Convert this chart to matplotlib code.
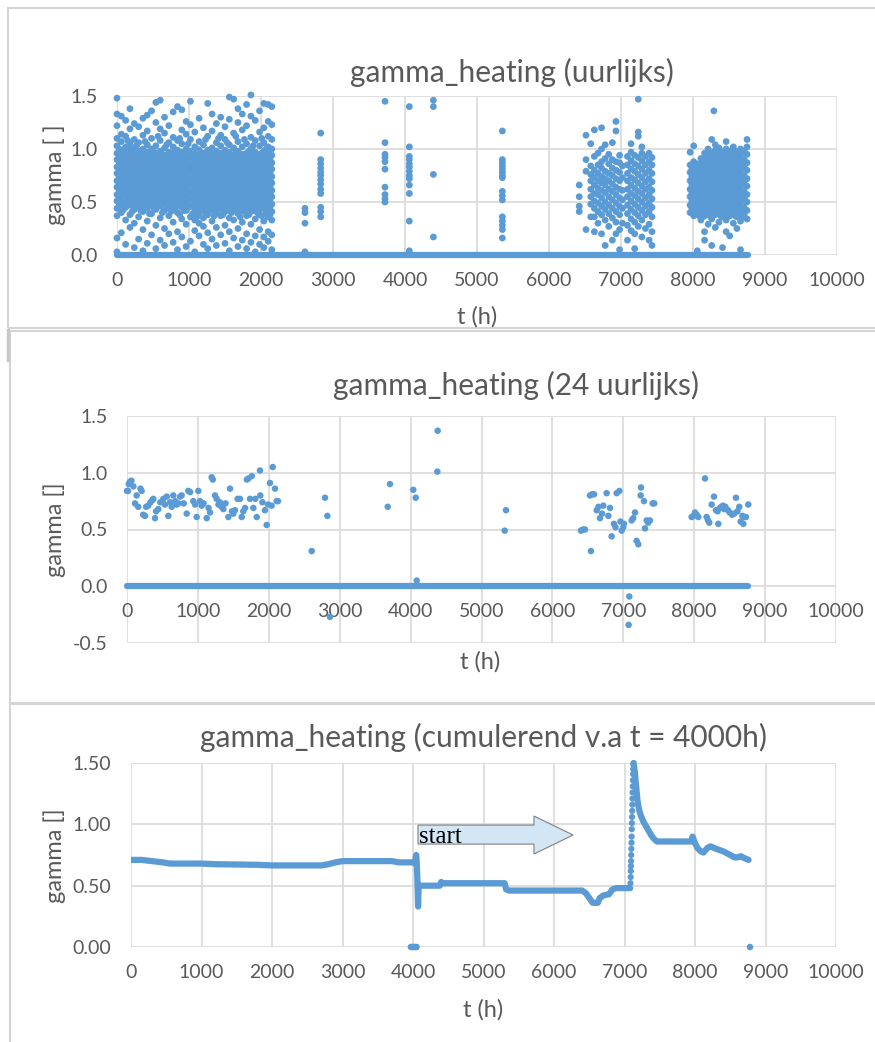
import matplotlib.pyplot as plt
from matplotlib.patches import Polygon, Rectangle
from matplotlib.lines import Line2D

plt.rcParams['font.family'] = ['Lato', 'DejaVu Sans']

BLUE = '#5B9BD5'
GRID = '#D9D9D9'
TXT = '#595959'

# ---------- hourly data (t in h, list of gamma values read per column) ----------
hourly_block1 = [
    (0,    [0.03, 0.16, 0.37, 0.44, 0.51, 0.57, 0.64, 0.70, 0.77, 0.83, 0.90, 0.96, 1.03, 1.10, 1.22, 1.33, 1.48]),
    (60,   [0.21, 0.40, 0.47, 0.54, 0.60, 0.67, 0.73, 0.80, 0.86, 0.93, 0.99, 1.07, 1.14, 1.31]),
    (120,  [0.10, 0.33, 0.45, 0.50, 0.57, 0.63, 0.70, 0.76, 0.83, 0.89, 0.96, 1.02, 1.12, 1.27]),
    (180,  [0.26, 0.38, 0.47, 0.53, 0.60, 0.66, 0.73, 0.79, 0.86, 0.92, 0.99, 1.05, 1.19, 1.38]),
    (240,  [0.07, 0.30, 0.43, 0.50, 0.56, 0.63, 0.69, 0.76, 0.82, 0.89, 0.95, 1.01, 1.09, 1.24]),
    (300,  [0.15, 0.36, 0.46, 0.53, 0.59, 0.66, 0.72, 0.79, 0.85, 0.92, 0.98, 1.06, 1.21]),
    (360,  [0.04, 0.24, 0.41, 0.49, 0.55, 0.62, 0.68, 0.75, 0.81, 0.88, 0.94, 1.00, 1.13, 1.29]),
    (420,  [0.11, 0.32, 0.44, 0.52, 0.58, 0.65, 0.71, 0.78, 0.84, 0.91, 0.97, 1.04, 1.17, 1.32]),
    (480,  [0.19, 0.39, 0.47, 0.54, 0.60, 0.67, 0.73, 0.80, 0.86, 0.93, 1.00, 1.10, 1.36]),
    (540,  [0.06, 0.28, 0.43, 0.50, 0.56, 0.63, 0.70, 0.76, 0.83, 0.89, 0.96, 1.03, 1.25, 1.44]),
    (600,  [0.14, 0.35, 0.46, 0.53, 0.59, 0.66, 0.72, 0.79, 0.85, 0.92, 0.98, 1.08, 1.19, 1.46]),
    (660,  [0.09, 0.25, 0.42, 0.49, 0.55, 0.62, 0.68, 0.75, 0.81, 0.88, 0.94, 1.01, 1.15, 1.30]),
    (720,  [0.20, 0.37, 0.45, 0.52, 0.58, 0.65, 0.71, 0.78, 0.84, 0.91, 0.97, 1.06, 1.22]),
    (780,  [0.12, 0.31, 0.44, 0.50, 0.57, 0.63, 0.70, 0.76, 0.83, 0.89, 0.96, 1.02, 1.11, 1.35]),
    (840,  [0.05, 0.22, 0.40, 0.47, 0.54, 0.60, 0.67, 0.73, 0.80, 0.86, 0.93, 0.99, 1.08, 1.40]),
    (900,  [0.17, 0.34, 0.45, 0.52, 0.58, 0.65, 0.71, 0.78, 0.84, 0.91, 0.97, 1.05, 1.18, 1.37]),
    (960,  [0.08, 0.29, 0.42, 0.49, 0.55, 0.62, 0.68, 0.75, 0.81, 0.88, 0.94, 1.00, 1.14, 1.26]),
    (1020, [0.13, 0.36, 0.46, 0.53, 0.59, 0.66, 0.72, 0.79, 0.85, 0.92, 0.98, 1.09, 1.23, 1.45]),
    (1080, [0.03, 0.23, 0.33, 0.43, 0.50, 0.56, 0.63, 0.69, 0.76, 0.82, 0.89, 0.95, 1.02, 1.16]),
    (1140, [0.18, 0.30, 0.39, 0.47, 0.53, 0.60, 0.66, 0.73, 0.79, 0.86, 0.92, 0.99, 1.07, 1.29]),
    (1200, [0.10, 0.27, 0.35, 0.44, 0.51, 0.57, 0.64, 0.70, 0.77, 0.83, 0.90, 0.96, 1.04, 1.20]),
    (1260, [0.06, 0.21, 0.38, 0.47, 0.54, 0.60, 0.67, 0.73, 0.80, 0.86, 0.93, 0.99, 1.12, 1.43]),
    (1320, [0.15, 0.32, 0.42, 0.49, 0.56, 0.62, 0.69, 0.75, 0.82, 0.88, 0.95, 1.01, 1.17, 1.33]),
    (1380, [0.09, 0.26, 0.40, 0.46, 0.52, 0.59, 0.65, 0.72, 0.78, 0.85, 0.91, 0.98, 1.06, 1.24]),
    (1440, [0.19, 0.37, 0.44, 0.50, 0.57, 0.63, 0.70, 0.76, 0.83, 0.89, 0.96, 1.03, 1.13, 1.30]),
    (1500, [0.11, 0.28, 0.41, 0.47, 0.54, 0.60, 0.67, 0.73, 0.80, 0.86, 0.93, 0.99, 1.09, 1.21]),
    (1560, [0.04, 0.22, 0.35, 0.45, 0.51, 0.58, 0.64, 0.71, 0.77, 0.84, 0.90, 0.97, 1.04, 1.28, 1.49]),
    (1620, [0.16, 0.33, 0.43, 0.49, 0.55, 0.62, 0.68, 0.75, 0.81, 0.88, 0.94, 1.01, 1.15, 1.47]),
    (1680, [0.08, 0.25, 0.39, 0.46, 0.53, 0.59, 0.66, 0.72, 0.79, 0.85, 0.92, 0.98, 1.07, 1.25, 1.38]),
    (1740, [0.14, 0.31, 0.42, 0.50, 0.56, 0.63, 0.69, 0.76, 0.82, 0.89, 0.95, 1.02, 1.18, 1.33]),
    (1800, [0.06, 0.20, 0.37, 0.44, 0.51, 0.57, 0.64, 0.70, 0.77, 0.83, 0.90, 0.96, 1.05, 1.22, 1.42]),
    (1860, [0.12, 0.29, 0.41, 0.48, 0.54, 0.61, 0.67, 0.74, 0.80, 0.87, 0.93, 1.00, 1.11, 1.31, 1.51]),
    (1920, [0.03, 0.18, 0.34, 0.45, 0.52, 0.58, 0.65, 0.71, 0.78, 0.84, 0.91, 0.97, 1.08, 1.27]),
    (1980, [0.10, 0.24, 0.38, 0.43, 0.49, 0.56, 0.62, 0.69, 0.75, 0.82, 0.88, 0.95, 1.03, 1.16, 1.36]),
    (2040, [0.07, 0.17, 0.32, 0.46, 0.53, 0.59, 0.66, 0.72, 0.79, 0.85, 0.92, 0.98, 1.06, 1.20, 1.43]),
    (2100, [0.13, 0.22, 0.36, 0.44, 0.50, 0.57, 0.63, 0.70, 0.76, 0.83, 0.89, 0.96, 1.02, 1.12, 1.26, 1.42]),
    (2150, [0.05, 0.19, 0.33, 0.41, 0.48, 0.55, 0.61, 0.68, 0.74, 0.81, 0.87, 0.94, 1.00, 1.09, 1.23, 1.40]),
]

# extra hours inside the dense core of the first heating period
hourly_block1_core = [
    (30,   [0.48, 0.55, 0.61, 0.68, 0.74, 0.81, 0.87, 0.94, 1.00]),
    (90,   [0.43, 0.50, 0.58, 0.64, 0.71, 0.77, 0.84, 0.90, 0.97]),
    (150,  [0.47, 0.54, 0.60, 0.67, 0.73, 0.80, 0.86, 0.93, 1.08]),
    (210,  [0.41, 0.49, 0.56, 0.62, 0.69, 0.76, 0.82, 0.89, 0.95]),
    (270,  [0.46, 0.53, 0.60, 0.66, 0.73, 0.79, 0.86, 0.92, 1.03]),
    (330,  [0.42, 0.50, 0.56, 0.63, 0.69, 0.76, 0.82, 0.89, 0.95]),
    (390,  [0.45, 0.52, 0.59, 0.65, 0.72, 0.78, 0.85, 0.91, 1.07]),
    (450,  [0.39, 0.48, 0.55, 0.61, 0.68, 0.74, 0.81, 0.87, 0.94]),
    (510,  [0.44, 0.51, 0.57, 0.64, 0.70, 0.77, 0.83, 0.90, 0.97]),
    (570,  [0.47, 0.53, 0.60, 0.66, 0.73, 0.80, 0.86, 0.93, 1.12]),
    (630,  [0.40, 0.49, 0.56, 0.62, 0.69, 0.75, 0.82, 0.88, 0.95]),
    (690,  [0.45, 0.52, 0.58, 0.65, 0.72, 0.78, 0.85, 0.91, 1.04]),
    (750,  [0.41, 0.48, 0.55, 0.61, 0.68, 0.74, 0.81, 0.87, 0.94]),
    (810,  [0.44, 0.51, 0.57, 0.64, 0.70, 0.77, 0.83, 0.90, 0.96]),
    (870,  [0.38, 0.48, 0.55, 0.61, 0.68, 0.74, 0.81, 0.87, 1.10]),
    (930,  [0.42, 0.49, 0.55, 0.62, 0.68, 0.75, 0.81, 0.88, 0.95]),
    (990,  [0.45, 0.52, 0.59, 0.65, 0.72, 0.78, 0.85, 0.91, 1.05]),
    (1050, [0.39, 0.47, 0.53, 0.60, 0.66, 0.73, 0.79, 0.86, 0.92]),
    (1110, [0.36, 0.46, 0.53, 0.60, 0.66, 0.72, 0.79, 0.85, 0.92, 1.00]),
    (1170, [0.42, 0.50, 0.56, 0.63, 0.69, 0.76, 0.82, 0.89, 0.95]),
    (1230, [0.40, 0.47, 0.54, 0.61, 0.67, 0.74, 0.80, 0.87, 0.93, 1.09]),
    (1290, [0.44, 0.51, 0.58, 0.64, 0.71, 0.77, 0.84, 0.90, 0.97]),
    (1350, [0.37, 0.46, 0.52, 0.59, 0.66, 0.72, 0.78, 0.85, 0.92]),
    (1410, [0.43, 0.49, 0.56, 0.62, 0.69, 0.75, 0.82, 0.88, 0.95, 1.10]),
    (1470, [0.38, 0.46, 0.53, 0.60, 0.66, 0.73, 0.79, 0.86, 0.92]),
    (1530, [0.42, 0.49, 0.56, 0.62, 0.69, 0.75, 0.82, 0.88, 0.95, 1.06]),
    (1590, [0.40, 0.48, 0.54, 0.61, 0.67, 0.74, 0.80, 0.87, 0.93]),
    (1650, [0.43, 0.50, 0.57, 0.63, 0.70, 0.76, 0.83, 0.89, 0.96, 1.12]),
    (1710, [0.36, 0.47, 0.53, 0.60, 0.66, 0.73, 0.79, 0.86, 0.92]),
    (1770, [0.41, 0.48, 0.55, 0.61, 0.68, 0.74, 0.81, 0.87, 0.94, 1.09]),
    (1830, [0.38, 0.46, 0.52, 0.59, 0.65, 0.72, 0.78, 0.85, 0.91, 0.98]),
    (1890, [0.42, 0.49, 0.56, 0.62, 0.69, 0.75, 0.82, 0.88, 0.95, 1.03]),
    (1950, [0.40, 0.47, 0.53, 0.60, 0.66, 0.73, 0.79, 0.86, 0.92]),
    (2010, [0.37, 0.44, 0.50, 0.57, 0.63, 0.70, 0.76, 0.83, 0.89, 0.96, 1.10]),
    (2070, [0.40, 0.47, 0.54, 0.60, 0.67, 0.73, 0.80, 0.86, 0.93, 1.00]),
    (2125, [0.38, 0.45, 0.51, 0.58, 0.64, 0.71, 0.77, 0.84, 0.90, 0.97]),
]

hourly_sparse = [
    (2611, [0.44, 0.40, 0.30, 0.03]),
    (2829, [1.15, 0.90, 0.86, 0.82, 0.78, 0.75, 0.71, 0.67, 0.62, 0.58, 0.45, 0.41, 0.36]),
    (3722, [1.45, 1.06, 0.95, 0.92, 0.88, 0.81, 0.64, 0.57, 0.53, 0.50]),
    (4060, [1.40, 1.02, 0.93, 0.90, 0.86, 0.83, 0.79, 0.75, 0.72, 0.66, 0.58, 0.32, 0.04]),
    (4394, [1.46, 1.40, 0.76, 0.17]),
    (5352, [1.17, 0.90, 0.87, 0.84, 0.81, 0.78, 0.75, 0.73, 0.60, 0.56, 0.52, 0.36, 0.32, 0.28, 0.24, 0.16]),
]

hourly_block2 = [
    (6420, [0.66, 0.55, 0.46, 0.41]),
    (6514, [1.13, 0.90, 0.79, 0.24]),
    (6580, [0.36, 0.48, 0.55, 0.62, 0.70, 0.76, 0.84, 1.05]),
    (6630, [0.22, 0.36, 0.44, 0.51, 0.58, 0.66, 0.73, 0.80, 0.93, 1.18]),
    (6680, [0.30, 0.41, 0.49, 0.57, 0.63, 0.70, 0.77, 0.85, 0.96]),
    (6730, [0.20, 0.38, 0.46, 0.54, 0.61, 0.68, 0.74, 0.82, 0.88, 1.00, 1.20]),
    (6780, [0.09, 0.33, 0.43, 0.50, 0.59, 0.66, 0.72, 0.79, 0.91, 1.04]),
    (6830, [0.27, 0.39, 0.47, 0.55, 0.62, 0.70, 0.77, 0.86, 0.95]),
    (6880, [0.14, 0.35, 0.44, 0.52, 0.60, 0.67, 0.75, 0.82, 0.90, 1.06]),
    (6930, [0.20, 0.31, 0.41, 0.49, 0.57, 0.64, 0.72, 0.80, 0.88, 1.17, 1.26]),
    (6980, [0.05, 0.24, 0.38, 0.46, 0.54, 0.62, 0.70, 0.78, 0.87, 0.94]),
    (7020, [0.30, 0.44, 0.52, 0.61, 0.73, 0.84]),
    (7090, [0.14, 0.28, 0.39, 0.47, 0.55, 0.62, 0.70, 0.77, 0.85, 0.93]),
    (7140, [0.23, 0.34, 0.43, 0.51, 0.58, 0.66, 0.73, 0.81, 0.89, 0.97, 1.05]),
    (7190, [0.06, 0.20, 0.31, 0.40, 0.48, 0.56, 0.63, 0.71, 0.79, 0.86, 0.94]),
    (7240, [0.27, 0.37, 0.45, 0.53, 0.60, 0.68, 0.76, 0.84, 0.92, 1.12, 1.16, 1.47]),
    (7290, [0.17, 0.33, 0.42, 0.50, 0.58, 0.65, 0.73, 0.81, 0.89, 0.96, 1.02]),
    (7340, [0.25, 0.38, 0.46, 0.54, 0.62, 0.69, 0.77, 0.85, 0.93]),
    (7390, [0.14, 0.29, 0.41, 0.49, 0.57, 0.64, 0.72, 0.80, 0.88, 0.96]),
    (7430, [0.09, 0.22, 0.36, 0.45, 0.53, 0.61, 0.69, 0.77, 0.85, 0.92]),
]

hourly_block3 = [
    (7960, [0.40, 0.47, 0.55, 0.62, 0.70, 0.78, 0.85, 0.97]),
    (7985, [0.44, 0.51, 0.58, 0.66, 0.74, 0.81]),
    (8010, [0.37, 0.44, 0.51, 0.59, 0.66, 0.74, 0.81, 0.88, 1.03]),
    (8035, [0.40, 0.48, 0.55, 0.63, 0.70, 0.78, 0.84]),
    (8060, [0.04, 0.41, 0.48, 0.56, 0.63, 0.71, 0.78, 0.86]),
    (8085, [0.37, 0.44, 0.52, 0.59, 0.67, 0.74, 0.82]),
    (8110, [0.33, 0.40, 0.47, 0.54, 0.62, 0.69, 0.77, 0.84, 0.91]),
    (8135, [0.36, 0.44, 0.51, 0.58, 0.66, 0.73, 0.80, 0.88]),
    (8160, [0.14, 0.22, 0.37, 0.44, 0.51, 0.59, 0.66, 0.74, 0.81, 0.89, 0.96]),
    (8185, [0.41, 0.48, 0.55, 0.62, 0.70, 0.77, 0.85, 0.92]),
    (8210, [0.29, 0.40, 0.48, 0.55, 0.63, 0.70, 0.78, 0.85, 0.93, 1.00]),
    (8235, [0.37, 0.44, 0.51, 0.59, 0.66, 0.74, 0.81, 0.89, 0.97]),
    (8260, [0.09, 0.34, 0.43, 0.51, 0.58, 0.66, 0.73, 0.81, 0.88, 0.96, 1.09]),
    (8290, [1.36, 0.40, 0.47, 0.55, 0.62, 0.70, 0.77, 0.85, 0.92]),
    (8310, [0.26, 0.38, 0.46, 0.54, 0.61, 0.69, 0.76, 0.84, 0.91, 0.99, 1.04]),
    (8335, [0.42, 0.50, 0.57, 0.65, 0.72, 0.80, 0.88, 0.95]),
    (8360, [0.31, 0.41, 0.49, 0.57, 0.64, 0.72, 0.79, 0.87, 0.94, 1.01]),
    (8385, [0.37, 0.45, 0.53, 0.60, 0.68, 0.75, 0.83, 0.90, 0.98]),
    (8410, [0.07, 0.36, 0.44, 0.52, 0.60, 0.67, 0.75, 0.82, 0.90, 0.97]),
    (8435, [0.40, 0.48, 0.56, 0.63, 0.71, 0.78, 0.86, 0.94]),
    (8460, [0.22, 0.33, 0.40, 0.48, 0.55, 0.63, 0.70, 0.78, 0.85, 0.93, 1.00, 1.07]),
    (8485, [0.37, 0.44, 0.52, 0.59, 0.67, 0.74, 0.82, 0.89, 0.97]),
    (8510, [0.18, 0.37, 0.45, 0.53, 0.60, 0.68, 0.75, 0.83, 0.90, 0.98]),
    (8535, [0.41, 0.49, 0.57, 0.64, 0.72, 0.79, 0.87, 0.94]),
    (8560, [0.30, 0.41, 0.49, 0.56, 0.64, 0.71, 0.79, 0.86, 0.94, 1.02]),
    (8585, [0.37, 0.45, 0.53, 0.60, 0.68, 0.75, 0.83, 0.90, 0.98]),
    (8610, [0.25, 0.36, 0.44, 0.52, 0.59, 0.67, 0.74, 0.82, 0.89, 0.97]),
    (8635, [0.40, 0.48, 0.56, 0.63, 0.71, 0.78, 0.86, 0.93]),
    (8660, [0.05, 0.32, 0.40, 0.48, 0.55, 0.63, 0.70, 0.78, 0.85, 0.93, 1.00]),
    (8685, [0.36, 0.44, 0.52, 0.59, 0.67, 0.74, 0.82, 0.89, 0.97]),
    (8710, [0.38, 0.45, 0.53, 0.60, 0.68, 0.75, 0.83, 0.90, 0.98]),
    (8750, [0.34, 0.42, 0.50, 0.57, 0.65, 0.72, 0.80, 0.87, 0.95, 1.02, 1.09]),
]

# hours with gamma = 0 (first and last hour of the zero run)
zero_t = [0, 8760]
zero_g = [0, 0]

# ---------- 24-hourly data ----------
daily_t = [0, 14, 25, 40, 62, 90, 113, 136, 158, 190, 207, 228, 254, 270, 300, 330, 360, 371, 395, 410,
           442, 470, 512, 535, 560, 583, 607, 630, 653, 680, 700, 724, 750, 771, 800, 842, 865, 890, 935, 960,
           983, 1006, 1030, 1053, 1080, 1124, 1150, 1171, 1194, 1210, 1241, 1265, 1290, 1312, 1335, 1359, 1390,
           1430, 1453, 1480, 1500, 1523, 1560, 1594, 1618, 1640, 1665, 1690, 1712, 1735, 1760, 1782, 1810, 1830,
           1876, 1880, 1910, 1946, 1970, 1990, 2017, 2040, 2055, 2087, 2111, 2130,
           2605, 2793, 2826, 2863, 3677, 3709, 4038, 4072, 4086, 4377, 4382, 5327, 5345,
           6403, 6430, 6460, 6530, 6544, 6560, 6587, 6625, 6650, 6671, 6700, 6718, 6765, 6789, 6812, 6835, 6868,
           6890, 6906, 6945, 6960, 6977, 7000, 7010, 7075, 7085, 7118, 7140, 7165, 7188, 7212, 7245, 7250, 7292,
           7306, 7330, 7350, 7376, 7414, 7437,
           7964, 7990, 8011, 8035, 8058, 8152, 8175, 8195, 8213, 8246, 8279, 8307, 8330, 8340, 8364, 8385, 8406,
           8420, 8440, 8477, 8500, 8533, 8566, 8589, 8610, 8636, 8655, 8680, 8693, 8707, 8730, 8763]
daily_g = [0.84, 0.84, 0.90, 0.92, 0.93, 0.88, 0.73, 0.80, 0.70, 0.86, 0.84, 0.63, 0.62, 0.70, 0.71, 0.74, 0.76, 0.77, 0.60, 0.66,
           0.68, 0.74, 0.77, 0.72, 0.79, 0.62, 0.74, 0.70, 0.80, 0.75, 0.72, 0.73, 0.79, 0.80, 0.73, 0.64, 0.84, 0.83, 0.75, 0.72,
           0.61, 0.84, 0.75, 0.71, 0.73, 0.60, 0.69, 0.65, 0.96, 0.94, 0.80, 0.77, 0.72, 0.74, 0.70, 0.68, 0.73,
           0.61, 0.86, 0.66, 0.64, 0.67, 0.77, 0.77, 0.61, 0.66, 0.69, 0.94, 0.95, 0.77, 0.97, 0.69, 0.77, 0.61,
           1.02, 0.80, 0.74, 0.67, 0.54, 0.72, 0.91, 0.71, 1.05, 0.86, 0.75, 0.75,
           0.31, 0.78, 0.62, -0.27, 0.70, 0.90, 0.85, 0.78, 0.05, 1.01, 1.37, 0.49, 0.67,
           0.49, 0.50, 0.50, 0.80, 0.31, 0.81, 0.81, 0.67, 0.70, 0.60, 0.64, 0.71, 0.82, 0.62, 0.69, 0.44, 0.55,
           0.52, 0.82, 0.84, 0.57, 0.49, 0.52, 0.55, -0.34, -0.09, 0.58, 0.60, 0.65, 0.40, 0.37, 0.80, 0.87, 0.75,
           0.51, 0.58, 0.56, 0.58, 0.73, 0.73,
           0.61, 0.62, 0.65, 0.63, 0.61, 0.95, 0.61, 0.58, 0.56, 0.72, 0.79, 0.67, 0.66, 0.55, 0.69, 0.70, 0.71,
           0.68, 0.70, 0.67, 0.65, 0.63, 0.64, 0.78, 0.66, 0.70, 0.57, 0.62, 0.55, 0.61, 0.61, 0.72]

# ---------- cumulative data (from t = 4000 h) ----------
cum1_t = [0, 150, 300, 450, 550, 1000, 1200, 1800, 2000, 2700, 2800, 2900, 3000, 3700, 3800, 4000, 4030,
          4045, 4055, 4062, 4068, 4072, 4080, 4100, 4380, 4400, 4420, 4450, 5300, 5320, 5360, 6400, 6450,
          6500, 6550, 6620, 6650, 6700, 6780, 6830, 6880, 7080]
cum1_g = [0.71, 0.71, 0.70, 0.69, 0.68, 0.68, 0.675, 0.67, 0.665, 0.665, 0.675, 0.69, 0.70, 0.70, 0.69, 0.69, 0.68,
          0.75, 0.66, 0.55, 0.42, 0.33, 0.50, 0.50, 0.50, 0.53, 0.52, 0.52, 0.52, 0.47, 0.46, 0.46, 0.44,
          0.40, 0.36, 0.36, 0.40, 0.42, 0.43, 0.47, 0.48, 0.48]
cum_jump_t = [7085, 7087, 7089, 7091, 7093, 7095, 7097, 7099, 7101, 7103, 7105, 7107, 7109, 7111,
              7113, 7115, 7117, 7119, 7121, 7123, 7125, 7130]
cum_jump_g = [0.52, 0.57, 0.62, 0.66, 0.70, 0.75, 0.80, 0.85, 0.90, 0.96, 1.01, 1.06, 1.11, 1.16,
              1.21, 1.26, 1.31, 1.36, 1.41, 1.45, 1.49, 1.50]
cum2_t = [7135, 7145, 7155, 7165, 7175, 7185, 7200, 7215, 7240, 7270, 7300, 7340, 7380, 7420, 7460,
          7950, 7965, 7990, 8030, 8080, 8120, 8180, 8220, 8300, 8400, 8500, 8560, 8600, 8650, 8680, 8720, 8760]
cum2_g = [1.48, 1.43, 1.37, 1.31, 1.25, 1.19, 1.14, 1.10, 1.06, 1.02, 0.99, 0.95, 0.91, 0.88, 0.86,
          0.86, 0.90, 0.86, 0.81, 0.78, 0.77, 0.81, 0.82, 0.80, 0.78, 0.75, 0.73, 0.73, 0.74, 0.73, 0.72, 0.71]
cum_zero_t = [3970, 3990, 4010, 4030, 4050, 8780]
cum_zero_g = [0, 0, 0, 0, 0, 0]

W, H = 875, 1042
fig = plt.figure(figsize=(W / 100, H / 100), dpi=100)


def fx(px):
    return px / W


def fy(py):
    return 1 - py / H


def add_ax(x0, x1, y0, y1):
    return fig.add_axes([fx(x0), fy(y1), (x1 - x0) / W, (y1 - y0) / H])


def style(ax, ylim, yticks, fmt):
    ax.set_xlim(0, 10000)
    ax.set_ylim(*ylim)
    ax.set_xticks(range(0, 10001, 1000))
    ax.set_yticks(yticks)
    ax.set_yticklabels([fmt % v for v in yticks])
    ax.grid(True, color=GRID, lw=1.2)
    ax.set_axisbelow(True)
    for s in ax.spines.values():
        s.set_visible(False)
    ax.tick_params(axis='both', length=0, labelsize=14, labelcolor=TXT)
    ax.tick_params(axis='y', pad=14)
    ax.tick_params(axis='x', pad=12)
    ax.patch.set_alpha(0)


def flatten(cols):
    xs, ys = [], []
    for t, vals in cols:
        for v in vals:
            xs.append(t)
            ys.append(v)
    return xs, ys


# chart boxes
for (x0, y0, x1, y1) in [(8, 8, 880, 328), (10, 331, 880, 703), (10, 704, 880, 1050)]:
    fig.patches.append(Rectangle((fx(x0), fy(y1)), (x1 - x0) / W, (y1 - y0) / H,
                                 transform=fig.transFigure, fill=False, edgecolor='#D4D4D4', lw=1.5))
fig.lines.append(Line2D([fx(8), fx(8)], [fy(330), fy(360)], transform=fig.transFigure,
                        color='#C8C8C8', lw=2.5))

# ---- panel 1: hourly ----
ax1 = add_ax(117, 837, 96, 255)
style(ax1, (0, 1.5), [0, 0.5, 1.0, 1.5], '%.1f')
for cols in (hourly_block1, hourly_block1_core, hourly_sparse, hourly_block2, hourly_block3):
    xs, ys = flatten(cols)
    ax1.scatter(xs, ys, s=24, color=BLUE, edgecolors='none', clip_on=False, zorder=3)
ax1.plot(zero_t, zero_g, color=BLUE, lw=4.5, solid_capstyle='round', clip_on=False, zorder=3)

# ---- panel 2: 24-hourly ----
ax2 = add_ax(127, 836, 416, 643)
style(ax2, (-0.5, 1.5), [-0.5, 0, 0.5, 1.0, 1.5], '%.1f')
ax2.spines['bottom'].set_position(('data', 0))
ax2.scatter(daily_t, daily_g, s=22, color=BLUE, edgecolors='none', clip_on=False, zorder=3)
ax2.plot(zero_t, zero_g, color=BLUE, lw=4.5, solid_capstyle='round', clip_on=False, zorder=3)

# ---- panel 3: cumulative ----
ax3 = add_ax(131, 836, 763, 947)
style(ax3, (0, 1.5), [0, 0.5, 1.0, 1.5], '%.2f')
ax3.plot(cum1_t, cum1_g, color=BLUE, lw=4.5, solid_capstyle='round', solid_joinstyle='round', zorder=3)
ax3.scatter(cum_jump_t, cum_jump_g, s=20, color=BLUE, edgecolors='none', clip_on=False, zorder=3)
ax3.plot(cum2_t, cum2_g, color=BLUE, lw=4.5, solid_capstyle='round', solid_joinstyle='round', zorder=3)
ax3.scatter(cum_zero_t, cum_zero_g, s=22, color=BLUE, edgecolors='none', clip_on=False, zorder=3)

arrow_x0, arrow_x1, arrow_tip = 4071, 5716, 6270
arrow_lo, arrow_hi, head_lo, head_hi = 0.839, 0.994, 0.758, 1.068
ax3.add_patch(Polygon([(arrow_x0, arrow_hi), (arrow_x1, arrow_hi), (arrow_x1, head_hi),
                       (arrow_tip, (head_lo + head_hi) / 2), (arrow_x1, head_lo), (arrow_x1, arrow_lo),
                       (arrow_x0, arrow_lo)], closed=True, facecolor='#D2E6F5', edgecolor='#808080',
                      lw=0.8, zorder=4))
ax3.text(arrow_x0 + 10, 0.85, 'start', family='Liberation Serif', fontsize=18, color='black',
         ha='left', va='baseline', zorder=5)

# titles and axis labels
titles = [('gamma_heating (uurlijks)', 512, 72), ('gamma_heating (24 uurlijks)', 516, 385),
          ('gamma_heating (cumulerend v.a t = 4000h)', 484, 737)]
for txt, x, y in titles:
    fig.text(fx(x), fy(y), txt, ha='center', va='center', fontsize=21.5, color=TXT)

for txt, y in [('gamma [ ]', 175), ('gamma []', 530), ('gamma []', 856)]:
    fig.text(fx(55), fy(y), txt, rotation=90, ha='center', va='center', fontsize=17, color=TXT)

for x, y in [(477, 317), (480, 662), (483, 1010)]:
    fig.text(fx(x), fy(y), 't (h)', ha='center', va='center', fontsize=17, color=TXT)

fig.savefig('out.png', dpi=100)
